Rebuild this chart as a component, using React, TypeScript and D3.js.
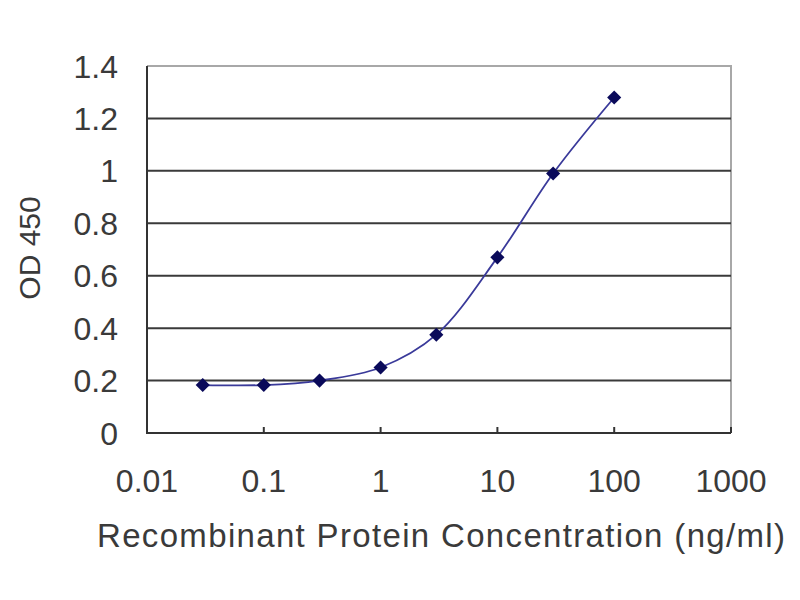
import React, {useEffect, useRef} from "react";
import * as d3 from "d3";

const concentrations = [0.03, 0.1, 0.3, 1, 3, 10, 30, 100];
const odValues = [0.183, 0.183, 0.2, 0.25, 0.375, 0.67, 0.99, 1.28];
const xTicks = [0.01, 0.1, 1, 10, 100, 1000];
const yTicks = [0, 0.2, 0.4, 0.6, 0.8, 1, 1.2, 1.4];

function createChart(node: SVGSVGElement) {
  const svg = d3.select(node);
  svg.selectAll("*").remove();

  const margin = {top: 66, right: 69, bottom: 167, left: 147};
  const width = 800,
    height = 600;

  const x = d3
    .scaleLog()
    .domain([0.01, 1000])
    .range([margin.left, width - margin.right]);
  const y = d3
    .scaleLinear()
    .domain([0, 1.4])
    .range([height - margin.bottom, margin.top]);

  svg.append("rect").attr("width", width).attr("height", height).attr("fill", "#fff");

  const font = "'Liberation Sans', Arial, sans-serif";
  const textColor = "#3a3a3a";

  // plot border (top + right, light)
  svg
    .append("path")
    .attr("d", `M${x(0.01)},${y(1.4)}H${x(1000)}V${y(0)}`)
    .attr("fill", "none")
    .attr("stroke", "#a8a8a8")
    .attr("stroke-width", 2);

  // gridlines
  svg
    .append("g")
    .selectAll("line")
    .data(yTicks.filter((d) => d > 0 && d < 1.4))
    .enter()
    .append("line")
    .attr("x1", x(0.01))
    .attr("x2", x(1000))
    .attr("y1", (d) => y(d))
    .attr("y2", (d) => y(d))
    .attr("stroke", "#3a3a3a")
    .attr("stroke-width", 2);

  // axes lines
  svg
    .append("path")
    .attr("d", `M${x(0.01)},${y(1.4)}V${y(0)}H${x(1000)}`)
    .attr("fill", "none")
    .attr("stroke", "#333")
    .attr("stroke-width", 2);

  // x ticks (inside, upward)
  svg
    .append("g")
    .selectAll("line")
    .data(xTicks.slice(1))
    .enter()
    .append("line")
    .attr("x1", (d) => x(d))
    .attr("x2", (d) => x(d))
    .attr("y1", y(0))
    .attr("y2", y(0) - 6)
    .attr("stroke", "#333")
    .attr("stroke-width", 2);

  // y tick labels
  svg
    .append("g")
    .selectAll("text")
    .data(yTicks)
    .enter()
    .append("text")
    .attr("x", 118)
    .attr("y", (d) => y(d))
    .attr("dy", "0.36em")
    .attr("text-anchor", "end")
    .attr("font-family", font)
    .attr("font-size", 32)
    .attr("fill", textColor)
    .text((d) => String(d));

  // x tick labels
  svg
    .append("g")
    .selectAll("text")
    .data(xTicks)
    .enter()
    .append("text")
    .attr("x", (d) => x(d))
    .attr("y", 492)
    .attr("text-anchor", "middle")
    .attr("font-family", font)
    .attr("font-size", 32)
    .attr("fill", textColor)
    .text((d) => String(d));

  // axis titles
  svg
    .append("text")
    .attr("x", 441)
    .attr("y", 547)
    .attr("text-anchor", "middle")
    .attr("font-family", font)
    .attr("font-size", 33)
    .attr("textLength", 688)
    .attr("lengthAdjust", "spacing")
    .attr("fill", textColor)
    .text("Recombinant Protein Concentration (ng/ml)");

  svg
    .append("text")
    .attr("transform", `translate(40,248) rotate(-90)`)
    .attr("text-anchor", "middle")
    .attr("font-family", font)
    .attr("font-size", 30)
    .attr("fill", textColor)
    .text("OD 450");

  const pts: [number, number][] = concentrations.map((c, i) => [c, odValues[i]]);

  const line = d3
    .line<[number, number]>()
    .x((d) => x(d[0]))
    .y((d) => y(d[1]))
    .curve(d3.curveCatmullRom.alpha(0.5));

  svg
    .append("path")
    .datum(pts)
    .attr("d", line)
    .attr("fill", "none")
    .attr("stroke", "#3a3a9a")
    .attr("stroke-width", 1.8);

  svg
    .append("g")
    .selectAll("path")
    .data(pts)
    .enter()
    .append("path")
    .attr("d", d3.symbol().type(d3.symbolSquare).size(100)())
    .attr("transform", (d) => `translate(${x(d[0])},${y(d[1])}) rotate(45)`)
    .attr("fill", "#0a0a5a");
}

export default function App() {
  const ref = useRef<SVGSVGElement>(null);
  useEffect(() => {
    if (ref.current) createChart(ref.current);
  }, []);
  return (
    <svg
      ref={ref}
      width={800}
      height={600}
      style={{position: "absolute", left: 0, top: 0}}
    />
  );
}
